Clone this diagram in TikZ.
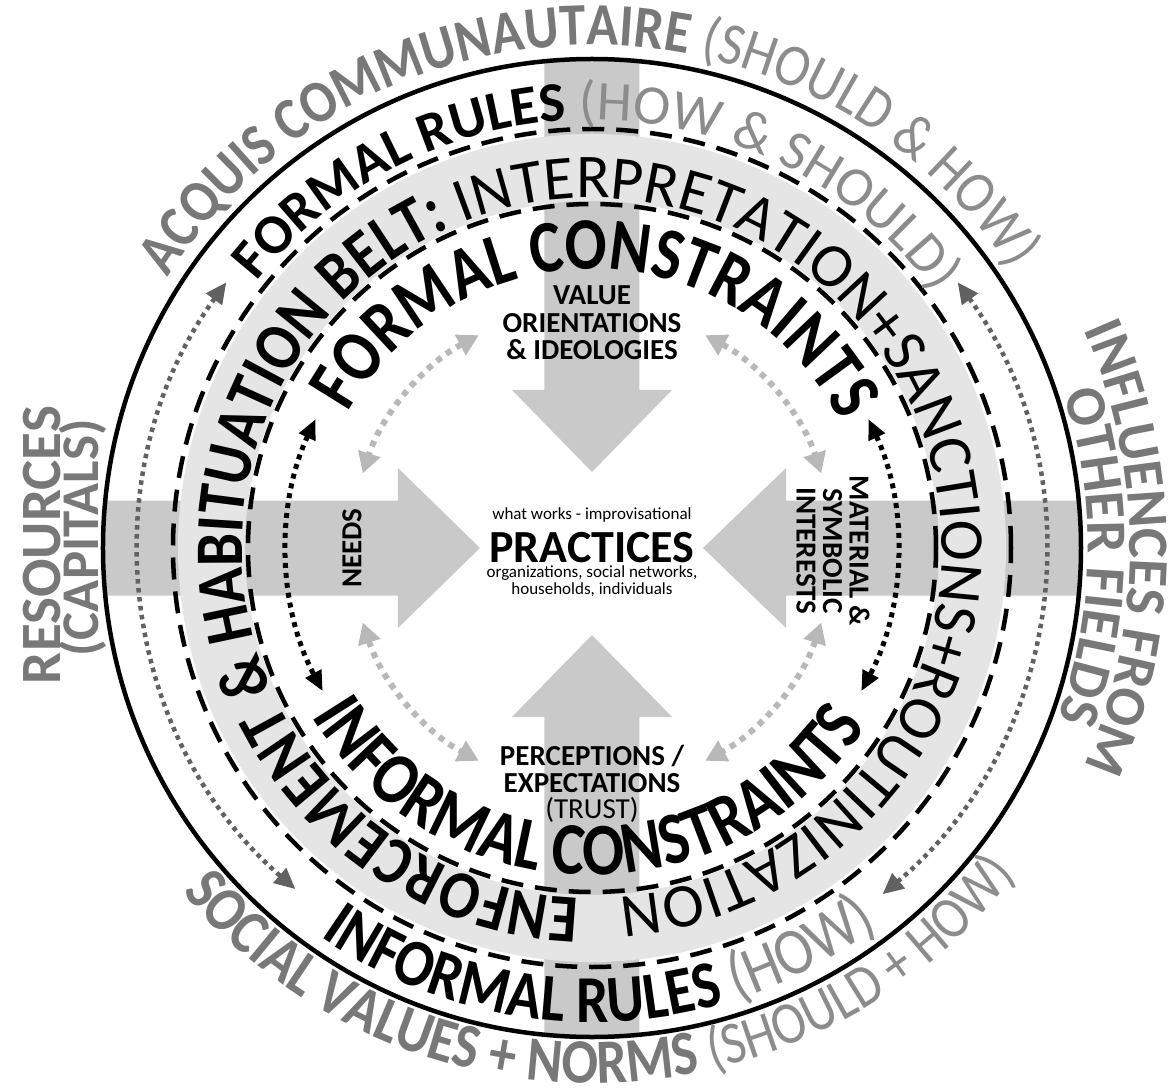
\documentclass[tikz,border=0pt]{standalone}
\usepackage{fontspec}
\setmainfont{Carlito}
\newfontfamily\cfA[FakeStretch=0.87]{Carlito}
\newfontfamily\cfB[FakeStretch=0.84]{Carlito}
\newfontfamily\cfC[FakeStretch=0.86]{Carlito}
\newfontfamily\cfD[FakeStretch=0.88]{Carlito}
\usetikzlibrary{decorations.text,arrows.meta}
\definecolor{barg}{gray}{0.79}
\definecolor{bandg}{gray}{0.9}
\definecolor{outg}{gray}{0.47}
\definecolor{outgl}{gray}{0.55}
\definecolor{dotdark}{gray}{0.38}
\definecolor{dotlight}{gray}{0.72}
\newcommand\fmtOB{\cfD\fontsize{60}{64}\selectfont\bfseries\color{outg}}
\newcommand\fmtOR{\cfD\fontsize{60}{64}\selectfont\mdseries\color{outgl}}
\newcommand\fmtSB{\cfC\fontsize{63}{66}\selectfont\bfseries\color{outg}}
\newcommand\fmtSR{\cfC\fontsize{60}{66}\selectfont\mdseries\color{outgl}}
\newcommand\fmtRB{\fontsize{56}{60}\selectfont\bfseries\color{black}}
\newcommand\fmtRR{\fontsize{56}{60}\selectfont\mdseries\color{outgl}}
\newcommand\fmtIB{\cfC\fontsize{67}{70}\selectfont\bfseries\color{black}}
\newcommand\fmtIR{\cfC\fontsize{67}{70}\selectfont\mdseries\color{outgl}}
\newcommand\fmtBB{\cfA\fontsize{68}{70}\selectfont\bfseries\color{black}}
\newcommand\fmtBR{\fontsize{62.2}{70}\selectfont\mdseries\color{black}}
\newcommand\fmtCB{\cfB\fontsize{74}{76}\selectfont\bfseries\color{black}}
\newcommand\fmtSide{\fontsize{57}{60}\selectfont\bfseries\color{outg}}
\tikzset{
  dashring/.style={line width=4.5pt, dash pattern=on 22pt off 12pt},
  solidring/.style={line width=4.5pt},
  dotK/.style={line width=5pt, dash pattern=on 5pt off 5pt, black,
    {Triangle[length=20pt,width=17pt]}-{Triangle[length=20pt,width=17pt]}},
  dotD/.style={line width=4.5pt, dash pattern=on 4.5pt off 4.5pt, dotdark,
    {Triangle[length=21pt,width=19pt]}-{Triangle[length=21pt,width=19pt]}},
  dotL/.style={line width=6pt, dash pattern=on 6pt off 6pt, dotlight,
    {Triangle[length=21pt,width=22pt]}-{Triangle[length=21pt,width=22pt]}},
  lblB/.style={font=\fontsize{29}{26.5}\selectfont\bfseries, align=center, inner sep=0pt},
  lblR/.style={font=\fontsize{29}{26.5}\selectfont, align=center, inner sep=0pt},
  smallR/.style={font=\fontsize{17}{17}\selectfont, inner sep=0pt},
  sideB/.style={font=\fontsize{57}{57}\selectfont\bfseries, text=outg, inner sep=0pt},
  sideR/.style={font=\fontsize{53}{53}\selectfont\bfseries, text=outg, inner sep=0pt}
}
\begin{document}
\begin{tikzpicture}[x=1pt,y=1pt]
\useasboundingbox (-592,-542) rectangle (581,548);
\coordinate (c) at (0,0);
% grey cross arrows
\begin{scope}
\clip (c) circle[radius=489];
\fill[barg] (-600,47.5) -- (-194,47.5) -- (-194,80) -- (-112,0) -- (-194,-80) -- (-194,-47.5) -- (-600,-47.5) -- cycle;
\fill[barg] (600,47.5) -- (194,47.5) -- (194,80) -- (111,0) -- (194,-80) -- (194,-47.5) -- (600,-47.5) -- cycle;
\fill[barg] (-47.5,600) -- (-47.5,158) -- (-80,158) -- (0,76) -- (80,158) -- (47.5,158) -- (47.5,600) -- cycle;
\fill[barg] (-47.5,-600) -- (-47.5,-169) -- (-80,-169) -- (0,-87) -- (80,-169) -- (47.5,-169) -- (47.5,-600) -- cycle;
\end{scope}
% belt
\fill[bandg,even odd rule] (c) circle[radius=414] (c) circle[radius=347];
% rings
\draw[solidring] (c) circle[radius=489];
\draw[dashring] (c) circle[radius=419];
\draw[dashring] (c) circle[radius=344];
% dotted arcs
\draw[dotK] (155:305) arc[start angle=155,end angle=208,radius=305];
\draw[dotK] (25:305) arc[start angle=25,end angle=-28,radius=305];
\draw[dotD] (144:452) arc[start angle=144,end angle=229,radius=452];
\draw[dotD] (36:452) arc[start angle=36,end angle=-50,radius=452];
\draw[dotL] (118:241) arc[start angle=118,end angle=162,radius=241];
\draw[dotL] (62:241) arc[start angle=62,end angle=18,radius=241];
\draw[dotL] (198:241) arc[start angle=198,end angle=242,radius=241];
\draw[dotL] (342:241) arc[start angle=342,end angle=298,radius=241];
% curved texts
\path[decorate,decoration={text along path,text align=left,text={|\fmtOB|ACQUIS COMMUNAUTAIRE |\fmtOR|(SHOULD {\&} HOW)}}] (147.5:503) arc[start angle=147.5,end angle=-30,radius=503];
\path[decorate,decoration={text along path,text align=left,text={|\fmtSB|SOCIAL VALUES + NORMS |\fmtSR|(SHOULD + HOW)}}] (220:535) arc[start angle=220,end angle=360,radius=535];
\path[decorate,decoration={text along path,text align=left,text={|\fmtRB|FORMAL RULES |\fmtRR|(HOW {\&} SHOULD)}}] (141.5:428) arc[start angle=141.5,end angle=0,radius=428];
\path[decorate,decoration={text along path,text align=left,text={|\fmtIB|INFORMAL RULES |\fmtIR|(HOW)}}] (235:474) arc[start angle=235,end angle=340,radius=474];
\path[decorate,decoration={text along path,text align=left,text={|\fmtBB|ENFORCEMENT {\&} HABITUATION BELT: |\fmtBR|INTERPRETATION+SANCTIONS+ROUTINIZATION}}] (268:350) arc[start angle=268,end angle=-91,radius=350];
\path[decorate,decoration={text along path,text align=left,text={|\fmtCB|FORMAL CONSTRAINTS}}] (151:279) arc[start angle=151,end angle=0,radius=279];
\path[decorate,decoration={text along path,text align=left,text={|\fmtCB|INFORMAL CONSTRAINTS}}] (211:327) arc[start angle=211,end angle=345,radius=327];
\path[decorate,decoration={text along path,text align=center,text={|\fmtSide|INFLUENCES FROM}}] (45:538) arc[start angle=45,end angle=-45,radius=538];
\path[decorate,decoration={text along path,text align=center,text={|\fmtSide|OTHER FIELDS}}] (44:496) arc[start angle=44,end angle=-46,radius=496];
% side texts
\node[sideB, rotate=90] (resources) at (-550,3) {RESOURCES};
\node[sideR, rotate=90] (capitals) at (-509,10) {(CAPITALS)};
% inner labels
\node[lblB, anchor=base] (value) at (0,243) {VALUE};
\node[lblB, anchor=base] (orient) at (0,215) {ORIENTATIONS};
\node[lblB, anchor=base] (ideol) at (0,188) {\& IDEOLOGIES};
\node[lblB, rotate=90] (needs) at (-240,0) {NEEDS};
\node[lblB, rotate=-90] (interests) at (241,-3) {MATERIAL \&\\SYMBOLIC\\INTERESTS};
\node[smallR, anchor=base] (works) at (0,29) {what works - improvisational};
\node[font=\fontsize{46}{46}\selectfont\bfseries, anchor=base, inner sep=0pt] (practices) at (0,-14) {PRACTICES};
\node[smallR, anchor=base] (org) at (0,-29) {organizations, social networks,};
\node[smallR, anchor=base] (house) at (0,-46) {households, individuals};
\node[lblB, anchor=base] (percep) at (0,-217) {PERCEPTIONS /};
\node[lblB, anchor=base] (expect) at (0,-244) {EXPECTATIONS};
\node[lblR, anchor=base] (trust) at (0,-270) {(TRUST)};
\end{tikzpicture}
\end{document}
